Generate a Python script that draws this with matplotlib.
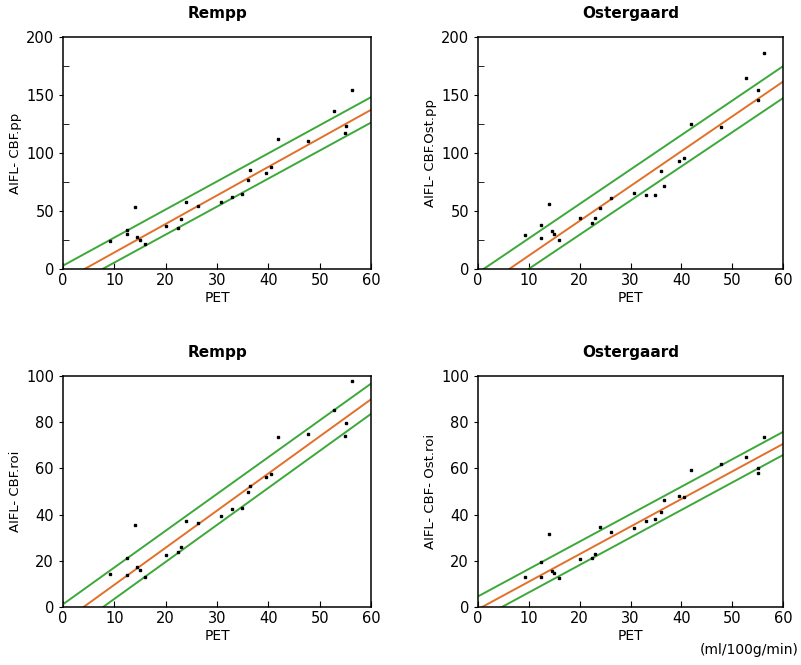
import numpy as np
import matplotlib; matplotlib.use("Agg")
import matplotlib.pyplot as plt
from matplotlib.ticker import MultipleLocator

# PET values (shared by all four panels)
pet = [9.2, 12.4, 12.4, 14.0, 14.5, 15.0, 15.9, 20.0, 22.4, 23.0, 24.0, 26.2, 30.7,
       33.0, 34.8, 36.0, 36.5, 39.5, 40.5, 41.8, 47.8, 52.8, 55.1, 55.0, 56.3]

cbf_pp = [24.5, 33.4, 30.5, 53.6, 27.7, 25.4, 21.9, 36.9, 35.4, 42.7, 57.6, 54.2, 57.6,
          62.0, 64.3, 76.4, 85.3, 83.0, 87.6, 111.8, 110.7, 136.0, 123.0, 117.0, 153.9]
ost_pp = [29.2, 38.2, 26.9, 56.2, 32.7, 30.4, 24.6, 44.0, 39.4, 44.0, 52.4, 61.4, 65.7,
          63.4, 63.4, 84.5, 71.5, 93.5, 96.1, 124.7, 122.4, 164.7, 154.6, 145.9, 186.1]
cbf_roi = [14.2, 21.3, 13.8, 35.7, 17.4, 16.2, 12.9, 22.5, 23.6, 26.1, 37.4, 36.2, 39.6,
           42.3, 42.9, 49.6, 52.5, 56.1, 57.7, 73.6, 75.1, 85.1, 79.6, 73.9, 98.0]
ost_roi = [13.0, 19.7, 12.9, 31.4, 15.8, 14.6, 12.5, 20.6, 21.4, 22.9, 34.6, 32.5, 34.1,
           37.4, 38.1, 41.2, 46.2, 48.0, 47.8, 59.1, 61.9, 64.8, 60.1, 58.1, 73.6]

# fitted line and band end points: (x0, y0, x1, y1)
fit_tl = (4.2, 0, 60, 137.2); up_tl = (0, 2.9, 60, 148.1); lo_tl = (7.7, 0, 60, 126.2)
fit_tr = (6.15, 0, 60, 161.5); up_tr = (1.1, 0, 60, 174.8); lo_tr = (9.95, 0, 60, 147.3)
fit_bl = (4.0, 0, 60, 89.9); up_bl = (0, 1.2, 60, 96.7); lo_bl = (7.8, 0, 60, 83.6)
fit_br = (0.8, 0, 60, 70.6); up_br = (0, 4.6, 60, 75.8); lo_br = (4.7, 0, 60, 65.8)

GREEN = "#3da83a"
ORANGE = "#e2702a"

panels = [
    ([0.0787, 0.5955, 0.3845, 0.3489], "Rempp", "AIFL- CBF.pp", cbf_pp, 200, 50, fit_tl, up_tl, lo_tl),
    ([0.5968, 0.5955, 0.3808, 0.3489], "Ostergaard", "AIFL- CBF.Ost.pp", ost_pp, 200, 50, fit_tr, up_tr, lo_tr),
    ([0.0787, 0.0872, 0.3845, 0.3474], "Rempp", "AIFL- CBF.roi", cbf_roi, 100, 20, fit_bl, up_bl, lo_bl),
    ([0.5968, 0.0872, 0.3808, 0.3474], "Ostergaard", "AIFL- CBF- Ost.roi", ost_roi, 100, 20, fit_br, up_br, lo_br),
]

fig = plt.figure(figsize=(8.01, 6.65), dpi=100)
for pos, title, ylab, yv, ymax, ystep, fit, up, lo in panels:
    ax = fig.add_axes(pos)
    for (x0, y0, x1, y1), col in [(up, GREEN), (lo, GREEN), (fit, ORANGE)]:
        ax.plot([x0, x1], [y0, y1], color=col, lw=1.4, zorder=2)
    ax.plot(pet, yv, "s", color="black", ms=1.9, zorder=3)
    ax.set_xlim(0, 60); ax.set_ylim(0, ymax)
    ax.xaxis.set_major_locator(MultipleLocator(10))
    ax.yaxis.set_major_locator(MultipleLocator(ystep))
    if ymax == 200:
        ax.yaxis.set_minor_locator(MultipleLocator(25))
    ax.tick_params(axis="x", direction="in", length=4, labelsize=10.5, pad=3)
    ax.tick_params(axis="y", which="major", direction="out", length=3, labelsize=10.5)
    ax.tick_params(axis="y", which="minor", direction="in", length=4)
    ax.set_title(title, fontsize=11, fontweight="bold", pad=14)
    ax.set_xlabel("PET", fontsize=10, labelpad=2)
    ax.set_ylabel(ylab, fontsize=9.5, labelpad=3)
    for s in ax.spines.values():
        s.set_linewidth(1.1)

fig.text(0.997, 0.012, "(ml/100g/min)", ha="right", va="bottom", fontsize=10)
fig.savefig("out.png", dpi=100)
